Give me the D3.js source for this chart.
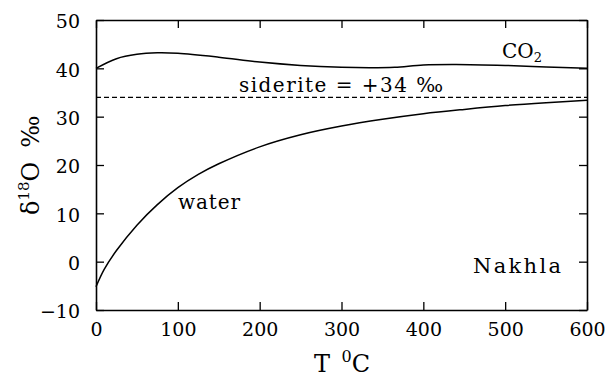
<!DOCTYPE html>
<html><head><meta charset="utf-8">
<script src="https://cdn.jsdelivr.net/npm/d3@7"></script>
<style>
body{margin:0;background:#fff;}
text{font-family:"DejaVu Serif",serif;fill:#000;}
</style></head>
<body><svg id="c" width="608" height="380"></svg>
<script>
const waterT = [0,10,25,50,75,100,125,150,200,250,300,350,400,450,500,550,600];
const waterV = [-5.2,-1.6,2.3,7.55,11.8,15.3,18.05,20.25,23.75,26.25,28.05,29.45,30.6,31.5,32.3,32.9,33.4];
const co2T = [0,25,50,75,100,150,200,250,300,335,365,400,440,500,550,600];
const co2V = [40.0,42.0,42.9,43.2,43.1,42.3,41.3,40.6,40.2,40.1,40.2,40.7,40.8,40.6,40.3,40.0];
const sideriteValue = 34;
const xTicks = [0,100,200,300,400,500,600];
const yTicks = [-10,0,10,20,30,40,50];

const svg = d3.select("#c");
const L=96,R=587,T=20,B=310;
const x = d3.scaleLinear().domain([0,600]).range([L,R]);
const y = d3.scaleLinear().domain([-10,50]).range([B,T]);

const fmt = d => d<0 ? "\u2212"+Math.abs(d) : String(d);

// axes (ticks inward)
const gB = svg.append("g").attr("transform",`translate(0,${B})`)
  .call(d3.axisBottom(x).tickValues(xTicks).tickSizeInner(-8).tickSizeOuter(0).tickPadding(12).tickFormat(fmt));
const gT = svg.append("g").attr("transform",`translate(0,${T})`)
  .call(d3.axisTop(x).tickValues(xTicks).tickSizeInner(-8).tickSizeOuter(0).tickFormat(""));
const gL = svg.append("g").attr("transform",`translate(${L},0)`)
  .call(d3.axisLeft(y).tickValues(yTicks).tickSizeInner(-8).tickSizeOuter(0).tickPadding(16).tickFormat(fmt));
const gR = svg.append("g").attr("transform",`translate(${R},0)`)
  .call(d3.axisRight(y).tickValues(yTicks).tickSizeInner(-8).tickSizeOuter(0).tickFormat(""));
[gB,gT,gL,gR].forEach(g=>{
  g.selectAll("path.domain").attr("stroke","#000").attr("stroke-width",1.6);
  g.selectAll(".tick line").attr("stroke","#000").attr("stroke-width",1.3);
  g.selectAll("text").style("font-family","DejaVu Serif").style("font-size","19px").attr("fill","#000");
});
gB.selectAll("text").attr("dy","0.75em");
gL.selectAll("text").attr("dy","0.42em");

// siderite dashed line
svg.append("line").attr("x1",x(0)).attr("x2",x(600)).attr("y1",y(sideriteValue)).attr("y2",y(sideriteValue))
  .attr("stroke","#000").attr("stroke-width",1.3).attr("stroke-dasharray","5,3");

const line = d3.line().x(d=>x(d[0])).y(d=>y(d[1])).curve(d3.curveCatmullRom.alpha(0.5));
svg.append("path").datum(waterT.map((t,i)=>[t,waterV[i]])).attr("d",line)
  .attr("fill","none").attr("stroke","#000").attr("stroke-width",1.5);
svg.append("path").datum(co2T.map((t,i)=>[t,co2V[i]])).attr("d",line)
  .attr("fill","none").attr("stroke","#000").attr("stroke-width",1.5);

// labels
svg.append("text").attr("x",239).attr("y",92.3).attr("font-size",20)
  .attr("textLength",204).attr("lengthAdjust","spacing").text("siderite = +34 \u2030");
svg.append("text").attr("x",178).attr("y",209).attr("font-size",20)
  .attr("textLength",62).attr("lengthAdjust","spacing").text("water");
svg.append("text").attr("x",473).attr("y",273.3).attr("font-size",21)
  .attr("textLength",88).attr("lengthAdjust","spacing").text("Nakhla");
const co2 = svg.append("text").attr("x",502).attr("y",58.3).attr("font-size",20);
co2.append("tspan").text("CO");
co2.append("tspan").attr("font-size",13).attr("dy",4).text("2");

// axis titles
const xl = svg.append("text").attr("x",342).attr("y",372).attr("font-size",24).attr("text-anchor","middle");
xl.append("tspan").text("T ");
xl.append("tspan").attr("font-size",16).attr("dy",-10).attr("dx",4).text("0");
xl.append("tspan").attr("dy",10).text("C");

const yl = svg.append("text").attr("transform","translate(39,215) rotate(-90)").attr("font-size",24);
yl.append("tspan").text("\u03b4");
yl.append("tspan").attr("font-size",15).attr("dy",-10).text("18");
yl.append("tspan").attr("dy",10).text("O");
yl.append("tspan").attr("dx",14).text("\u2030");
</script></body></html>
